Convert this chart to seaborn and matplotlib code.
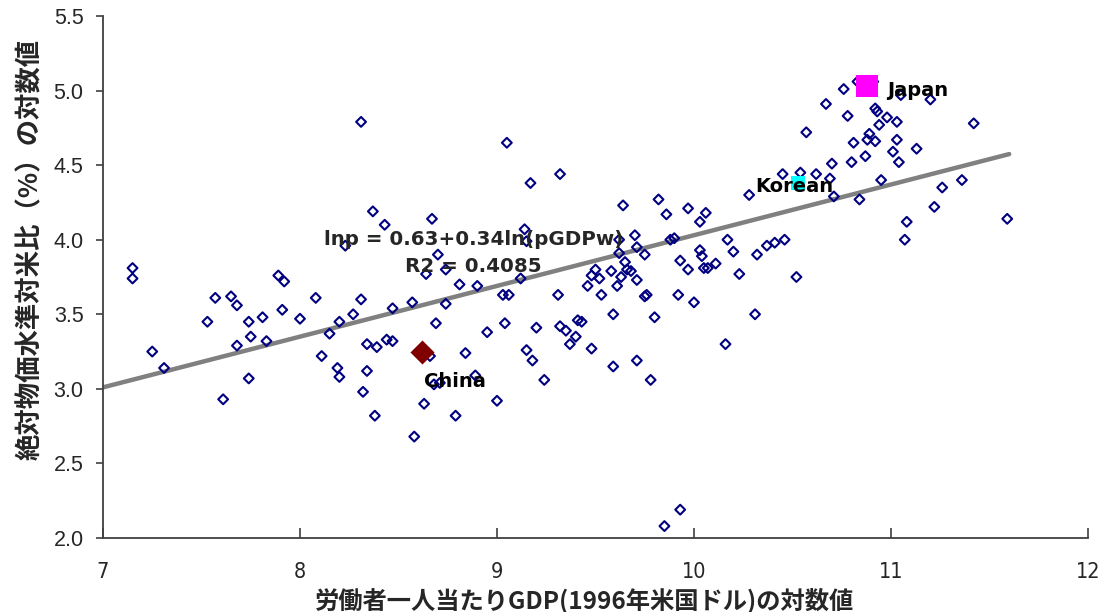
import matplotlib
matplotlib.use("Agg")
import matplotlib.pyplot as plt
import seaborn as sns
import numpy as np
import pandas as pd

# log GDP per worker (x) and log relative price level (y)
gdp = [7.15, 7.15, 7.25, 7.31, 7.57, 7.65, 7.68, 7.53, 7.74, 7.75, 7.68, 7.74, 7.61, 7.81, 7.83,
       7.89, 7.92, 7.91, 8.00, 8.08, 8.11, 8.15, 8.20, 8.19, 8.20,
       8.31, 9.05, 9.32, 9.17, 8.37, 8.67, 8.43, 9.14, 9.15, 8.23, 8.70, 8.64, 8.74, 9.12, 8.81,
       8.90, 9.03, 9.06, 9.31, 8.31, 8.57, 8.47, 8.74, 8.27, 8.69, 9.04, 9.20, 9.32, 9.35, 9.41,
       9.40, 9.37, 8.95, 8.34, 8.39, 8.44, 8.47, 8.66, 8.84, 9.15, 9.18, 8.34, 8.32, 8.89, 9.24,
       8.68, 8.71, 8.63, 9.00, 8.38, 8.79, 8.58,
       10.57, 10.45, 10.54, 10.62, 10.28, 9.64, 9.82, 9.86, 9.97, 10.06, 10.03, 9.70, 9.62, 9.71,
       9.62, 9.75, 9.88, 9.90, 10.17, 10.20, 10.03, 10.04, 9.93, 10.11, 10.05, 10.07, 9.97, 10.32,
       10.37, 10.41, 10.46, 10.23, 10.52, 9.65, 9.50, 9.48, 9.52, 9.46, 9.58, 9.63, 9.66, 9.68,
       9.71, 9.61, 9.53, 9.76, 9.75, 9.92, 10.00, 9.59, 9.80, 10.31, 9.43, 9.48, 10.16, 9.59,
       9.71, 9.78, 9.93, 9.85,
       10.76, 10.83, 10.91, 11.05, 11.20, 10.67, 10.78, 10.92, 10.93, 10.98, 11.03, 10.94, 11.42,
       10.89, 10.88, 10.92, 10.81, 11.03, 11.01, 11.13, 10.87, 10.80, 11.04, 10.70, 10.69, 10.95,
       11.36, 11.26, 10.71, 10.84, 11.22, 11.59, 11.08, 11.07]
price = [3.81, 3.74, 3.25, 3.14, 3.61, 3.62, 3.56, 3.45, 3.45, 3.35, 3.29, 3.07, 2.93, 3.48, 3.32,
         3.76, 3.72, 3.53, 3.47, 3.61, 3.22, 3.37, 3.45, 3.14, 3.08,
         4.79, 4.65, 4.44, 4.38, 4.19, 4.14, 4.10, 4.07, 3.99, 3.96, 3.90, 3.77, 3.80, 3.74, 3.70,
         3.69, 3.63, 3.63, 3.63, 3.60, 3.58, 3.54, 3.57, 3.50, 3.44, 3.44, 3.41, 3.42, 3.39, 3.46,
         3.35, 3.30, 3.38, 3.30, 3.28, 3.33, 3.32, 3.22, 3.24, 3.26, 3.19, 3.12, 2.98, 3.09, 3.06,
         3.03, 3.04, 2.90, 2.92, 2.82, 2.82, 2.68,
         4.72, 4.44, 4.45, 4.44, 4.30, 4.23, 4.27, 4.17, 4.21, 4.18, 4.12, 4.03, 4.00, 3.95,
         3.91, 3.90, 4.00, 4.01, 4.00, 3.92, 3.93, 3.89, 3.86, 3.84, 3.81, 3.81, 3.80, 3.90,
         3.96, 3.98, 4.00, 3.77, 3.75, 3.85, 3.80, 3.76, 3.74, 3.69, 3.79, 3.75, 3.80, 3.79,
         3.73, 3.69, 3.63, 3.63, 3.62, 3.63, 3.58, 3.50, 3.48, 3.50, 3.45, 3.27, 3.30, 3.15,
         3.19, 3.06, 2.19, 2.08,
         5.01, 5.06, 5.06, 4.97, 4.94, 4.91, 4.83, 4.88, 4.86, 4.82, 4.79, 4.77, 4.78,
         4.71, 4.67, 4.66, 4.65, 4.67, 4.59, 4.61, 4.56, 4.52, 4.52, 4.51, 4.41, 4.40,
         4.40, 4.35, 4.29, 4.27, 4.22, 4.14, 4.12, 4.00]

# highlighted countries
hl_names = ["China", "Japan", "Korean"]
hl_gdp = [8.62, 10.88, 10.53]
hl_price = [3.25, 5.03, 4.38]

# regression line lnp = 0.63 + 0.34 ln(pGDPw)
fit_intercept = 0.63
fit_slope = 0.34
fit_range = [7.0, 11.6]
eq_text = "lnp = 0.63+0.34ln(pGDPw)"
r2_text = "R2 = 0.4085"

xticks = [7, 8, 9, 10, 11, 12]
yticks = [2.0, 2.5, 3.0, 3.5, 4.0, 4.5, 5.0, 5.5]
xlabel = "労働者一人当たりGDP(1996年米国ドル)の対数値"
ylabel = "絶対物価水準対米比（%）の対数値"

sns.set_theme(style="white")
plt.rcParams['font.family'] = ['DejaVu Sans', 'Noto Sans CJK JP']

fig = plt.figure(figsize=(11.05, 6.12), dpi=100)
ax = fig.add_axes([0.0932, 0.1209, 0.8914, 0.8530])

df = pd.DataFrame({"gdp": gdp, "price": price})
fx = np.array(fit_range)
fit_df = pd.DataFrame({"x": fx, "y": fit_intercept + fit_slope * fx})

sns.lineplot(data=fit_df, x="x", y="y", ax=ax, color="#808080", linewidth=3.2, zorder=1)
sns.scatterplot(data=df, x="gdp", y="price", ax=ax, marker="D", s=25,
                facecolor="none", edgecolor="#000080", linewidth=1.5, zorder=3)

# highlighted markers
sns.scatterplot(x=[hl_gdp[0]], y=[hl_price[0]], ax=ax, marker="D", s=150,
                color="#800000", edgecolor="#800000", linewidth=0, zorder=4)
sns.scatterplot(x=[hl_gdp[1]], y=[hl_price[1]], ax=ax, marker="s", s=230,
                color="#FF00FF", edgecolor="#FF00FF", linewidth=0, zorder=4)
sns.scatterplot(x=[hl_gdp[2]], y=[hl_price[2]], ax=ax, marker="s", s=90,
                color="#00FFFF", edgecolor="#00FFFF", linewidth=0, zorder=4)

lab_font = dict(fontsize=14, fontweight="bold", color="black", zorder=5)
ax.text(hl_gdp[0] + 0.01, hl_price[0] - 0.20, hl_names[0], ha="left", va="center", **lab_font)
ax.text(hl_gdp[1] + 0.10, hl_price[1] - 0.03, hl_names[1], ha="left", va="center", **lab_font)
ax.text(hl_gdp[2] - 0.22, hl_price[2] - 0.02, hl_names[2], ha="left", va="center", **lab_font)

ax.text(8.88, 4.00, eq_text, ha="center", va="center", fontsize=14.3, fontweight="bold", zorder=5)
ax.text(8.88, 3.82, r2_text, ha="center", va="center", fontsize=14.3, fontweight="bold", zorder=5)

ax.set_xlim(7, 12)
ax.set_ylim(2.0, 5.5)
ax.set_xticks(xticks)
ax.set_xticklabels([str(t) for t in xticks], fontsize=15.5, family="DejaVu Sans",
                   fontstretch="condensed")
ax.set_yticks(yticks)
ax.set_yticklabels([f"{t:.1f}" for t in yticks], fontsize=15.5, family="Liberation Sans")

for s in ["top", "right"]:
    ax.spines[s].set_visible(False)
for s in ["left", "bottom"]:
    ax.spines[s].set_color("#404040")
    ax.spines[s].set_linewidth(1.3)

ax.tick_params(axis="x", direction="in", length=7, width=1.2, color="#404040", pad=17)
ax.tick_params(axis="y", direction="out", length=5, width=1.2, color="#404040", pad=9)
ax.tick_params(left=True, bottom=True)

ax.set_xlabel(xlabel, fontsize=17.5, fontweight="bold", family=["Noto Sans CJK JP", "DejaVu Sans"])
ax.set_ylabel(ylabel, fontsize=19, fontweight="bold", family=["Noto Sans CJK JP", "DejaVu Sans"])
ax.xaxis.set_label_coords(0.489, -0.119)
ax.xaxis.label.set_va("center")
ax.yaxis.set_label_coords(-0.074, 0.552)
ax.yaxis.label.set_va("center")

fig.savefig("out.png", dpi=100)
